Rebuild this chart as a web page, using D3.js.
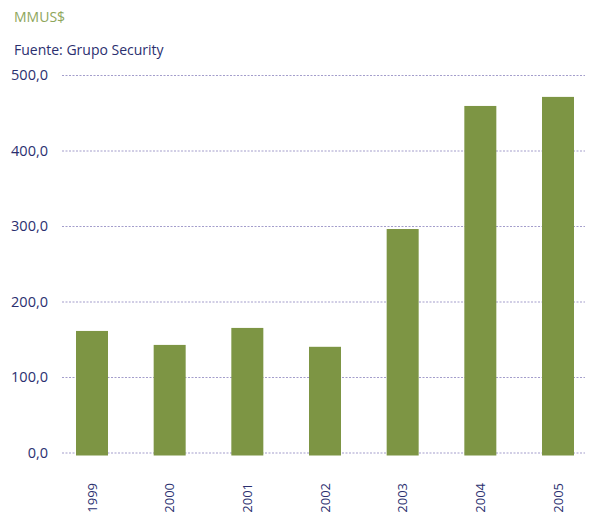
<!DOCTYPE html>
<html>
<head>
<meta charset="utf-8">
<script src="https://cdn.jsdelivr.net/npm/d3@7"></script>
<style>
  body { margin: 0; background: #fff; }
  text { font-family: "Open Sans", "Noto Sans", sans-serif; }
</style>
</head>
<body>
<svg id="chart" width="589" height="514"></svg>
<script>
const years = ["1999", "2000", "2001", "2002", "2003", "2004", "2005"]
const values = [161, 142.5, 165, 140, 296, 459, 471]
const yTicks = [0, 100, 200, 300, 400, 500]

const svg = d3.select("#chart")

let x = d3.scalePoint()
  .domain(years)
  .range([92, 558])

let y = d3.scaleLinear()
  .domain([0, 500])
  .range([452.5, 75])

const barWidth = 32
const navy = "#2b2f6f"

// header texts
svg.append("text")
  .attr("x", 14).attr("y", 22)
  .attr("font-size", 14)
  .attr("fill", "#8ea65b")
  .text("MMUS$")

svg.append("text")
  .attr("x", 14).attr("y", 55)
  .attr("font-size", 14)
  .attr("fill", navy)
  .text("Fuente: Grupo Security")

// gridlines + y labels
let yAxis = d3.axisLeft(y)
  .tickValues(yTicks)
  .tickSize(-(585 - 62))
  .tickPadding(14)
  .tickFormat(d => d3.format(".1f")(d).replace(".", ","))

let gy = svg.append("g")
  .attr("transform", "translate(62,0)")
  .call(yAxis)

gy.select(".domain").remove()
gy.selectAll(".tick line")
  .attr("stroke", "#a39dcb")
  .attr("stroke-dasharray", "2,1.5")
gy.selectAll(".tick text")
  .attr("font-size", 14.5)
  .attr("fill", navy)
  .attr("font-family", "\"Open Sans\", \"Noto Sans\", sans-serif")

// bars
svg.append("g")
  .selectAll("rect")
  .data(values)
  .join("rect")
  .attr("x", (d, i) => x(years[i]) - barWidth / 2)
  .attr("y", d => y(d))
  .attr("width", barWidth)
  .attr("height", d => y(0) - y(d) + 3)
  .attr("fill", "#7d9544")

// x labels, rotated
svg.append("g")
  .selectAll("text")
  .data(years)
  .join("text")
  .attr("transform", d => `translate(${x(d) + 4.5},483) rotate(-90)`)
  .attr("text-anchor", "end")
  .attr("font-size", 13)
  .attr("fill", navy)
  .text(d => d)
</script>
</body>
</html>
